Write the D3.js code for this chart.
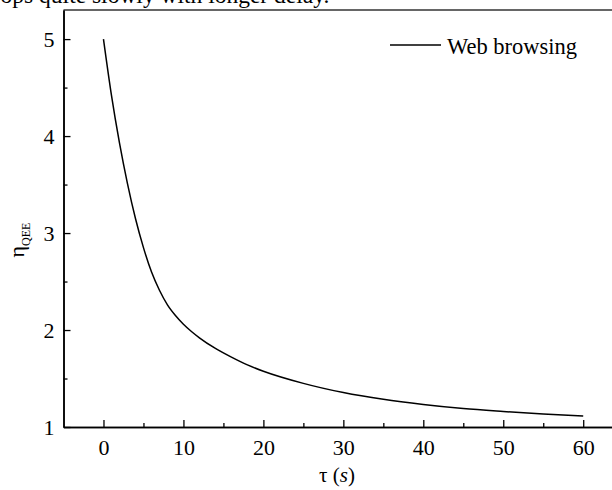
<!DOCTYPE html>
<html><head><meta charset="utf-8">
<script src="https://cdn.jsdelivr.net/npm/d3@7"></script>
<style>body{margin:0;background:#fff}svg{display:block}</style>
</head><body><svg id="c" width="612" height="490"></svg>
<script>
const tau = [0, 1, 2, 3, 4, 5, 6, 7, 8, 9, 10, 11, 12, 14, 16, 18, 20, 25, 30, 35, 40, 45, 50, 55, 60];
const eta = [5.0, 4.42, 3.93, 3.51, 3.15, 2.85, 2.6, 2.41, 2.26, 2.15, 2.06, 1.985, 1.92, 1.81, 1.72, 1.64, 1.575, 1.45, 1.355, 1.285, 1.232, 1.19, 1.16, 1.134, 1.113];
const xTicks = [0, 10, 20, 30, 40, 50, 60];
const xMinor = [5, 15, 25, 35, 45, 55];
const yTicks = [1, 2, 3, 4, 5];
const yMinor = [1.5, 2.5, 3.5, 4.5];
const legendLabel = "Web browsing";
const topText = "drops quite slowly with longer delay.";

const svg = d3.select("#c");
const font = "'Liberation Serif','Times New Roman',serif";
const L = 63.5, T = 10, B = 427, R = 620;
const x = d3.scaleLinear().domain([-5, 64.6]).range([L, R]);
const y = d3.scaleLinear().domain([1, 5.3]).range([B, T]);

svg.append("text").attr("x", -19).attr("y", 3).attr("font-family", font).attr("font-size", 23.5).text(topText);

// top border
svg.append("line").attr("x1", L).attr("x2", 612).attr("y1", T).attr("y2", T).attr("stroke", "#333").attr("stroke-width", 1.5);

svg.append("g").attr("transform", `translate(0,${B})`)
  .call(d3.axisBottom(x).tickValues(xTicks).tickSizeInner(-7).tickSizeOuter(0).tickPadding(12).tickFormat(d3.format("d")));
svg.append("g").attr("transform", `translate(0,${B})`)
  .call(d3.axisBottom(x).tickValues(xMinor).tickSizeInner(-4).tickSizeOuter(0).tickFormat(""));
svg.append("g").attr("transform", `translate(${L},0)`)
  .call(d3.axisLeft(y).tickValues(yTicks).tickSizeInner(-7).tickSizeOuter(0).tickPadding(9).tickFormat(d3.format("d")));
svg.append("g").attr("transform", `translate(${L},0)`)
  .call(d3.axisLeft(y).tickValues(yMinor).tickSizeInner(-4).tickSizeOuter(0).tickFormat(""));
svg.selectAll(".domain").attr("stroke", "#000").attr("stroke-width", 1.5);
svg.selectAll(".tick line").attr("stroke", "#000").attr("stroke-width", 1.3);
svg.selectAll(".tick text").attr("font-family", font).attr("font-size", 22).attr("fill", "#000");

const data = tau.map((t, i) => [t, eta[i]]);
svg.append("path").datum(data)
  .attr("fill", "none").attr("stroke", "#000").attr("stroke-width", 1.5)
  .attr("d", d3.line().x(d => x(d[0])).y(d => y(d[1])).curve(d3.curveMonotoneX));

// legend
svg.append("line").attr("x1", 390).attr("x2", 441).attr("y1", 45).attr("y2", 45).attr("stroke", "#000").attr("stroke-width", 1.5);
svg.append("text").attr("x", 447).attr("y", 54).attr("font-family", font).attr("font-size", 22.5).text(legendLabel);

// x title
const xt = svg.append("text").attr("x", 337).attr("y", 482).attr("text-anchor", "middle").attr("font-family", font).attr("font-size", 21);
xt.append("tspan").text("τ (");
xt.append("tspan").attr("font-style", "italic").text("s");
xt.append("tspan").text(")");

// y title
const yt = svg.append("text").attr("transform", "translate(24,240) rotate(-90)").attr("text-anchor", "middle").attr("font-family", font).attr("font-size", 22);
yt.append("tspan").text("η");
yt.append("tspan").attr("font-size", 12).attr("dy", 6).text("QEE");
</script></body></html>
